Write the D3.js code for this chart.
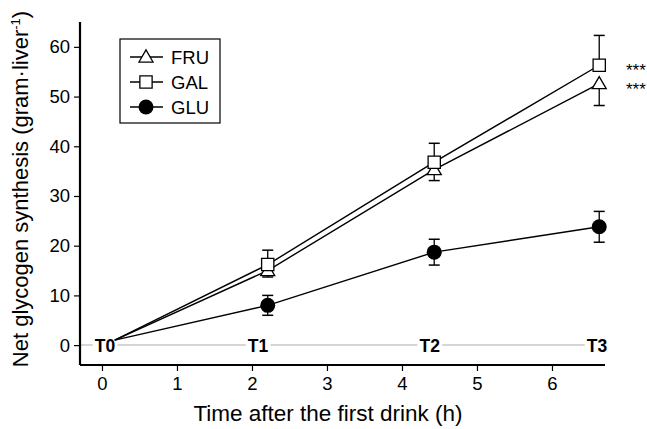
<!DOCTYPE html>
<html>
<head>
<meta charset="utf-8">
<script src="https://cdn.jsdelivr.net/npm/d3@7"></script>
<style>
  html, body { margin: 0; padding: 0; background: #fff; }
  svg text { font-family: "Liberation Sans", Arial, sans-serif; }
</style>
</head>
<body>
<svg id="chart" width="647" height="429"></svg>
<script>
// Sampling times (h after first drink)
const times = [0.17, 2.21, 4.43, 6.63];
// Net glycogen synthesis, mean values per drink
const fru = [1.0, 15.0, 35.3, 52.6];
const gal = [1.0, 16.2, 36.8, 56.3];
const glu = [1.0, 8.0, 18.7, 23.8];
// Error bar half-widths (SE)
const fruErr = [0, 1.3, 2.2, 4.4];
const galErr = [0, 2.9, 3.8, 6.0];
const gluErr = [0, 2.0, 2.6, 3.1];
// Time point markers along the baseline
const tLabels = ["T0", "T1", "T2", "T3"];
const tLabelX = [0.04, 2.08, 4.37, 6.6];
const xTicks = [0, 1, 2, 3, 4, 5, 6];
const yTicks = [0, 10, 20, 30, 40, 50, 60];
const legendNames = ["FRU", "GAL", "GLU"];

const svg = d3.select("#chart");
const x = d3.scaleLinear().domain([-0.293, 6.707]).range([80, 605]);
const y = d3.scaleLinear().domain([-4, 65]).range([365, 22]);

// baseline at zero
svg.append("line")
  .attr("x1", x.range()[0]).attr("x2", x.range()[1])
  .attr("y1", y(0)).attr("y2", y(0))
  .attr("stroke", "#c8c8c8").attr("stroke-width", 1.5);

// axes
const xAxis = d3.axisBottom(x).tickValues(xTicks).tickSize(6).tickPadding(6).tickFormat(d3.format("d"));
const gx = svg.append("g").attr("transform", `translate(0,${y.range()[0]})`).call(xAxis);
gx.select(".domain").attr("d", `M${x.range()[0]},0H${x.range()[1]}`).attr("stroke-width", 2.2);
gx.selectAll(".tick line").attr("stroke-width", 1.2);
gx.selectAll("text").attr("font-size", 18.5).attr("fill", "#000");

const yAxis = d3.axisLeft(y).tickValues(yTicks).tickSize(6).tickPadding(4);
const gy = svg.append("g").attr("transform", `translate(${x.range()[0]},0)`).call(yAxis);
gy.select(".domain").attr("d", `M0,${y.range()[1]}V${y.range()[0]}`).attr("stroke-width", 2.2);
gy.selectAll(".tick line").attr("stroke-width", 1.2);
gy.selectAll("text").attr("font-size", 18.5).attr("fill", "#000");

// axis titles
svg.append("text")
  .attr("x", 328).attr("y", 421)
  .attr("text-anchor", "middle").attr("font-size", 22.5).text("Time after the first drink (h)");

const yt = svg.append("text")
  .attr("transform", `translate(28,189) rotate(-90)`)
  .attr("text-anchor", "middle").attr("font-size", 22);
yt.append("tspan").text("Net glycogen synthesis (gram\u00B7liver");
yt.append("tspan").attr("font-size", 13).attr("dy", -8).text("-1");
yt.append("tspan").attr("dy", 8).text(")");

// time point labels on the baseline
tLabels.forEach((t, i) => {
  const g = svg.append("g");
  const txt = g.append("text")
    .attr("x", x(tLabelX[i])).attr("y", y(0) + 6.5)
    .attr("text-anchor", "middle").attr("font-size", 17.5).attr("font-weight", "bold")
    .text(t);
  const bb = txt.node().getBBox();
  g.insert("rect", "text")
    .attr("x", bb.x - 2).attr("y", bb.y).attr("width", bb.width + 4).attr("height", bb.height)
    .attr("fill", "#fff");
});

const line = d3.line().x((d, i) => x(times[i])).y(d => y(d));

function errorBars(vals, errs, dir) {
  vals.forEach((v, i) => {
    if (!errs[i]) return;
    const cx = x(times[i]);
    const ends = dir === "both" ? [v - errs[i], v + errs[i]] : [dir === "up" ? v + errs[i] : v - errs[i]];
    ends.forEach(e => {
      svg.append("line").attr("x1", cx).attr("x2", cx).attr("y1", y(v)).attr("y2", y(e))
        .attr("stroke", "#000").attr("stroke-width", 1.3);
      svg.append("line").attr("x1", cx - 5.5).attr("x2", cx + 5.5).attr("y1", y(e)).attr("y2", y(e))
        .attr("stroke", "#000").attr("stroke-width", 1.5);
    });
  });
}

// series lines
[glu, fru, gal].forEach(s => {
  svg.append("path").datum(s).attr("d", line)
    .attr("fill", "none").attr("stroke", "#000").attr("stroke-width", 1.4);
});

errorBars(glu, gluErr, "both");
errorBars(fru, fruErr, "down");
errorBars(gal, galErr, "up");

const triSym = d3.symbol().type(d3.symbolTriangle).size(85);
const sqSym = d3.symbol().type(d3.symbolSquare).size(150);

function triangle(g, cx, cy) {
  g.append("path").attr("d", triSym()).attr("transform", `translate(${cx},${cy + 1})`)
    .attr("fill", "#fff").attr("stroke", "#000").attr("stroke-width", 1.3);
}
function square(g, cx, cy) {
  g.append("path").attr("d", sqSym()).attr("transform", `translate(${cx},${cy})`)
    .attr("fill", "#fff").attr("stroke", "#000").attr("stroke-width", 1.3);
}
function dot(g, cx, cy) {
  g.append("circle").attr("cx", cx).attr("cy", cy).attr("r", 7.5).attr("fill", "#000");
}

// markers (not drawn at the T0 origin)
glu.forEach((v, i) => { if (i > 0) dot(svg, x(times[i]), y(v)); });
fru.forEach((v, i) => { if (i > 0) triangle(svg, x(times[i]), y(v)); });
gal.forEach((v, i) => { if (i > 0) square(svg, x(times[i]), y(v)); });

// significance marks
[gal, fru].forEach(s => {
  svg.append("text").attr("x", 626).attr("y", y(s[3]) + 11)
    .attr("font-size", 17).text("***");
});

// legend
const lg = svg.append("g");
lg.append("rect").attr("x", 120).attr("y", 39).attr("width", 100).attr("height", 84)
  .attr("fill", "#fff").attr("stroke", "#000").attr("stroke-width", 1.2);
const rowsY = [57, 82, 107];
const drawers = [triangle, square, dot];
legendNames.forEach((n, i) => {
  lg.append("line").attr("x1", 130).attr("x2", 163).attr("y1", rowsY[i]).attr("y2", rowsY[i])
    .attr("stroke", "#000").attr("stroke-width", 1.4);
  drawers[i](lg, 146, rowsY[i]);
  lg.append("text").attr("x", 171).attr("y", rowsY[i] + 6.5).attr("font-size", 18.5).text(n);
});
</script>
</body>
</html>
